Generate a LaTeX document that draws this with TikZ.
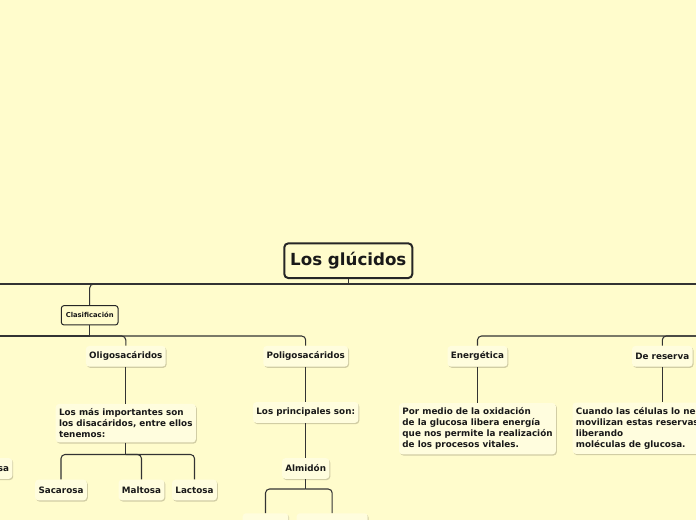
\documentclass[tikz,border=0pt]{standalone}
\usepackage{fontspec}
\setmainfont{DejaVu Sans}
\usetikzlibrary{shadows,positioning}
\definecolor{paper}{RGB}{255,252,204}
\definecolor{card}{RGB}{255,253,222}
\definecolor{cardshadow}{RGB}{205,200,160}
\definecolor{ink}{RGB}{25,25,25}
\tikzset{
  link/.style={draw=black!80, line width=0.8pt, rounded corners=3pt},
  card/.style={fill=card, rounded corners=2.5pt, text=ink,
    font=\bfseries\fontsize{6.6}{8.25}\selectfont,
    inner xsep=2.5pt, minimum height=15.5pt,
    drop shadow={shadow xshift=0.7pt, shadow yshift=-0.9pt, fill=cardshadow, opacity=0.9}},
  note/.style={card, align=left, inner ysep=3.5pt},
}

\begin{document}
\begin{tikzpicture}[x=0.75pt, y=-0.75pt,
  central/.style={draw=black!85, line width=1.5pt, rounded corners=3pt, fill=paper, text=ink,
    font=\bfseries\fontsize{12.5}{15}\selectfont, minimum width=96pt, minimum height=26pt},
  branch/.style={draw=black!85, line width=0.75pt, rounded corners=2pt, fill=paper, text=ink,
    font=\bfseries\fontsize{5.1}{6}\selectfont, minimum width=42.5pt, minimum height=14.5pt}
]
  \useasboundingbox (0,0) rectangle (696,520);
  \fill[paper] (0,0) rectangle (696,520);
  \clip (0,0) rectangle (696,520);

  % Main topic
  \node[central] (glucidos) at (348.3,260.7) {Los glúcidos};
  \node[branch] (clasif) at (89.7,315.3) {Clasificación};

  % Clasificación
  \node[card] (oligo) at (125.8,356.3) {Oligosacáridos};
  \node[card] (poligo) at (305.7,356.3) {Poligosacáridos};
  \node[card] (glucosa) at (-10.5,468.5) {Glucosa};

  \node[note] (disacaridos) at (125.8,423.2) {Los más importantes son\\los disacáridos, entre ellos\\tenemos:};
  \node[card] (sacarosa) at (61,490) {Sacarosa};
  \node[card] (maltosa) at (141.5,490) {Maltosa};
  \node[card] (lactosa) at (194.5,490) {Lactosa};

  \node[card] (principales) at (305.7,412.5) {Los principales son:};
  \node[card] (almidon) at (305.7,468.5) {Almidón};
  % only the tops of these two show
  \node[card, minimum width=34.2pt] (amilosa) at (265.5,523.6) {};
  \node[card, minimum width=53.3pt] (amilopectina) at (332.2,523.6) {};

  % Funciones
  \node[card] (energetica) at (477.5,356.3) {Energética};
  \node[card] (reserva) at (662.3,356.3) {De reserva};
  \node[note] (oxidacion) at (477.5,428.7) {Por medio de la oxidación\\de la glucosa libera energía\\que nos permite la realización\\de los procesos vitales.};
  \node[note, anchor=north west] (cuando) at (572.3,402.3) {Cuando las células lo necesitan\\movilizan estas reservas\\liberando\\moléculas de glucosa.};

  % Bus points
  \coordinate (tb) at (348.3,284);
  \coordinate (offleft) at (-20,284);
  \coordinate (offright) at (720,284);
  \coordinate (cb) at (89.7,336);
  \coordinate (offmono) at (-20,336);
  \coordinate (db) at (125.8,454.5);
  \coordinate (ab) at (305.7,489);
  \coordinate (fb) at (720,336);

  % Connections
  \draw[link] (glucidos.south) -- (tb);
  \draw[link] (tb) -- (offleft);
  \draw[link] (tb) -- (offright);
  \draw[link] (tb) -| (clasif.north);

  \draw[link] (clasif.south) -- (cb);
  \draw[link] (cb) -- (offmono);
  \draw[link] (cb) -| (oligo.north);
  \draw[link] (cb) -| (poligo.north);

  \draw[link] (oligo.south) -- (disacaridos.north);
  \draw[link] (disacaridos.south) -- (db);
  \draw[link] (db) -| (sacarosa.north);
  \draw[link] (db) -| (maltosa.north);
  \draw[link] (db) -| (lactosa.north);

  \draw[link] (poligo.south) -- (principales.north);
  \draw[link] (principales.south) -- (almidon.north);
  \draw[link] (almidon.south) -- (ab);
  \draw[link] (ab) -| (amilosa.north);
  \draw[link] (ab) -| (amilopectina.north);

  \draw[link] (fb) -| (energetica.north);
  \draw[link] (fb) -| (reserva.north);
  \draw[link] (energetica.south) -- (oxidacion.north);
  \draw[link] (reserva.south) -- (reserva.south |- cuando.north);
\end{tikzpicture}
\end{document}
